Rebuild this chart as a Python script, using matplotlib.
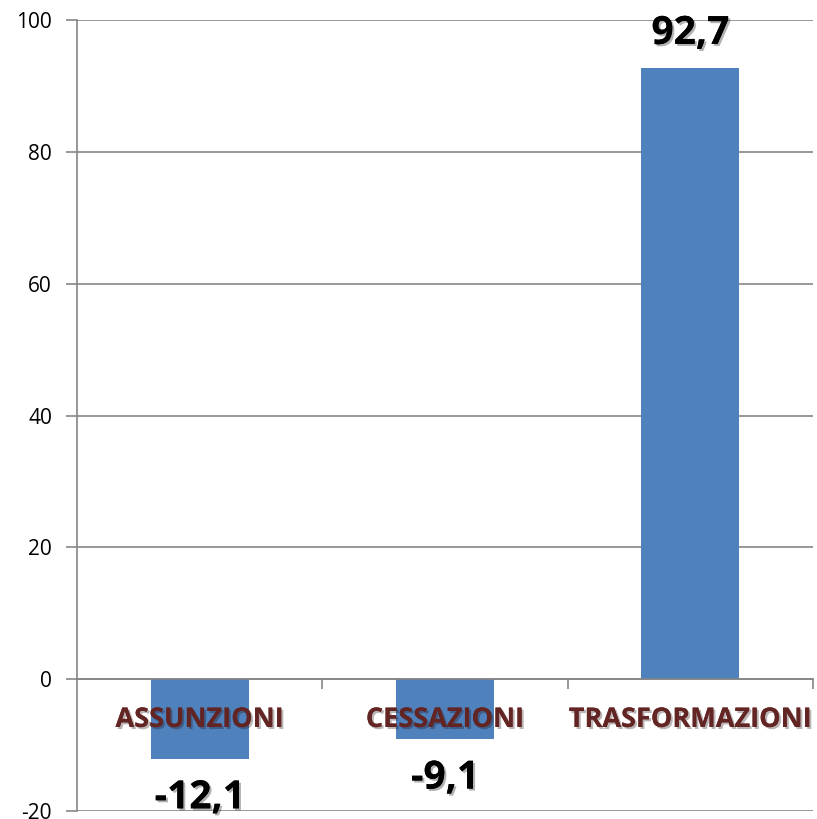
import matplotlib.pyplot as plt
import matplotlib.patheffects as pe
import numpy as np

categories = ["ASSUNZIONI", "CESSAZIONI", "TRASFORMAZIONI"]
values = [-12.1, -9.1, 92.7]
value_labels = ["-12,1", "-9,1", "92,7"]
yticks = [-20, 0, 20, 40, 60, 80, 100]

fig = plt.figure(figsize=(8.17, 8.19), dpi=100)
ax = fig.add_axes([77/817, 8/819, 736/817, 791/819])

x = np.arange(len(categories))
bars = ax.bar(x, values, width=0.4, color="#4F81BD", zorder=2)

ax.set_xlim(-0.5, 2.5)
ax.set_ylim(-20, 100)
ax.set_yticks(yticks)
ax.set_yticklabels([str(t) for t in yticks], fontsize=15, family="Open Sans")
ax.grid(axis="y", color="#868686", linewidth=1.2, zorder=0)
ax.tick_params(axis="y", length=8, width=1.2, color="#868686", pad=10)

for s in ["top", "right"]:
    ax.spines[s].set_visible(False)
ax.spines["left"].set_color("#868686")
ax.spines["left"].set_linewidth(1.2)
ax.spines["bottom"].set_position(("data", 0))
ax.spines["bottom"].set_color("#868686")
ax.spines["bottom"].set_linewidth(1.2)

# category labels in the middle, tick marks at the boundaries
ax.set_xticks(x)
ax.set_xticklabels(categories, fontsize=19.5, fontweight="bold", family="Open Sans",
                   color="#632523")
ax.tick_params(axis="x", which="major", length=0, pad=20)
ax.set_xticks([0.5, 1.5, 2.5], minor=True)
ax.tick_params(axis="x", which="minor", length=7, width=1.2, color="#868686")
ax.xaxis.set_zorder(3)
shadow = [pe.withSimplePatchShadow(offset=(1.5, -1.5), alpha=0.3), pe.Normal()]
for lab in ax.get_xticklabels():
    lab.set_path_effects(shadow)

for b, v, t in zip(bars, values, value_labels):
    off = 25 if v > 0 else -28
    ax.annotate(t, (b.get_x() + b.get_width() / 2, v), xytext=(0, off),
                textcoords="offset points", ha="center", va="center",
                fontsize=28, fontweight="bold", family="Open Sans",
                annotation_clip=False, path_effects=shadow, zorder=5)

fig.savefig("out.png", dpi=100)
